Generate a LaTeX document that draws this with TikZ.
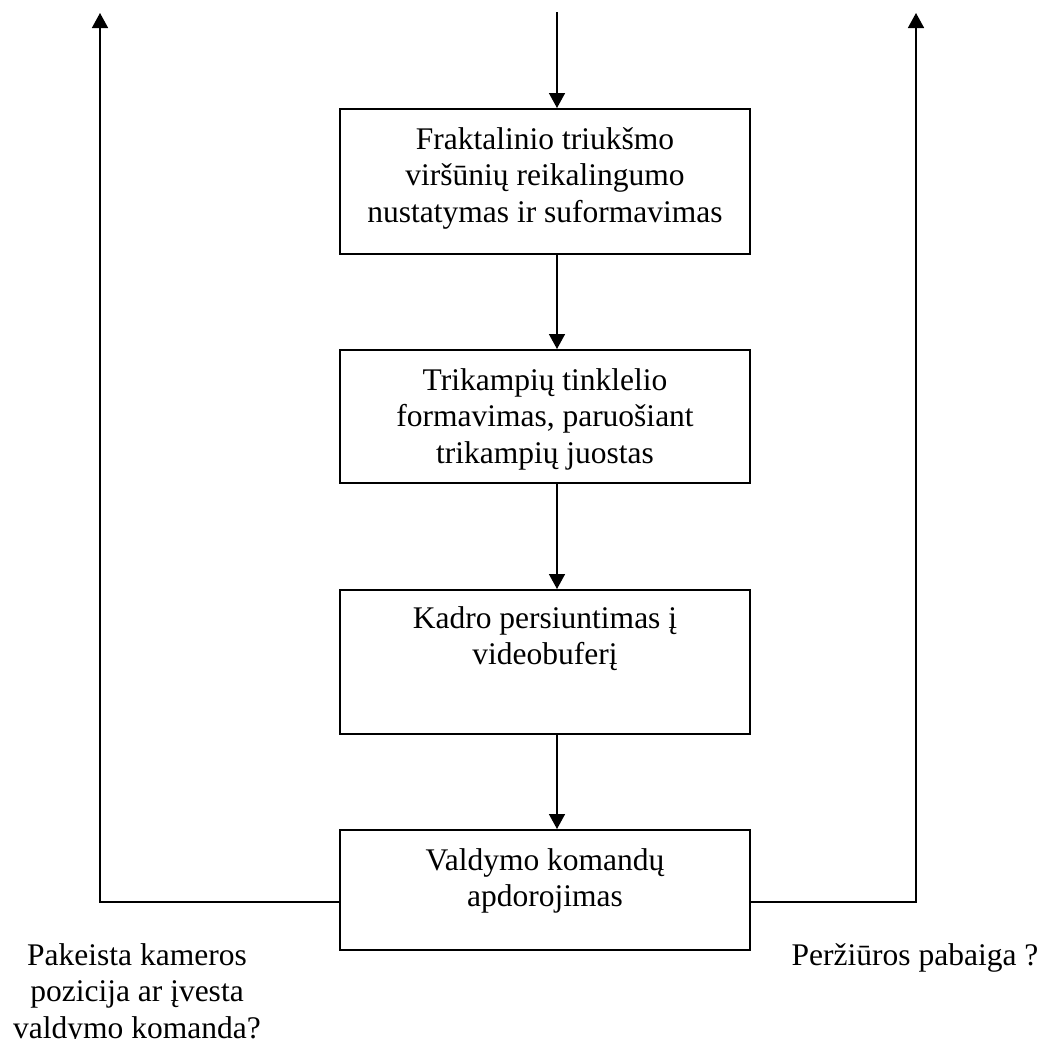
\documentclass[tikz,border=0pt]{standalone}
\usepackage{fontspec}
\setmainfont{Liberation Serif}
\usetikzlibrary{arrows.meta,calc}
\begin{document}
\begin{tikzpicture}[x=1pt,y=-1pt,
  line width=1.6pt,
  stepbox/.style={draw, line width=1.8pt, rectangle, minimum width=410pt, inner sep=0pt, anchor=north},
  boxtext/.style={anchor=base, inner sep=0pt, font=\fontsize{31.5}{36.5}\selectfont},
  flow/.style={-{Triangle[length=15pt,width=16pt]}}
]
\useasboundingbox (0,0) rectangle (1045,1039);

% process boxes
\node[stepbox, minimum height=145pt] (b1) at (545,108) {};
\node[stepbox, minimum height=133pt] (b2) at (545,349) {};
\node[stepbox, minimum height=144pt] (b3) at (545,589) {};
\node[stepbox, minimum height=120pt] (b4) at (545,829) {};

% box texts
\node[boxtext] (t1) at (545,149) {\parbox[t]{404pt}{\centering Fraktalinio triukšmo\\ viršūnių reikalingumo\\ nustatymas ir suformavimas}};
\node[boxtext] (t2) at (545,390) {\parbox[t]{404pt}{\centering Trikampių tinklelio\\ formavimas, paruošiant\\ trikampių juostas}};
\node[boxtext] (t3) at (545,628) {\parbox[t]{404pt}{\centering Kadro persiuntimas į\\ videobuferį}};
\node[boxtext] (t4) at (545,870) {\parbox[t]{404pt}{\centering Valdymo komandų\\ apdorojimas}};

% exit conditions
\node[boxtext] (cl) at (137,965) {\parbox[t]{300pt}{\centering Pakeista kameros\\ pozicija ar įvesta\\ valdymo komanda?}};
\node[boxtext] (cr) at (915,965) {Peržiūros pabaiga ?};

% connector column and free ends
\coordinate (ax) at (557,0);
\coordinate (in) at (557,12);
\coordinate (lt) at (100,13);
\coordinate (rt) at (916,13);

% main flow
\draw[flow] (in) -- (b1.north -| ax);
\draw[flow] (b1.south -| ax) -- (b2.north -| ax);
\draw[flow] (b2.south -| ax) -- (b3.north -| ax);
\draw[flow] (b3.south -| ax) -- (b4.north -| ax);

% branches leaving the control box
\draw[flow] ($(b4.west)+(0,12)$) -| (lt);
\draw[flow] ($(b4.east)+(0,12)$) -| (rt);
\end{tikzpicture}
\end{document}
